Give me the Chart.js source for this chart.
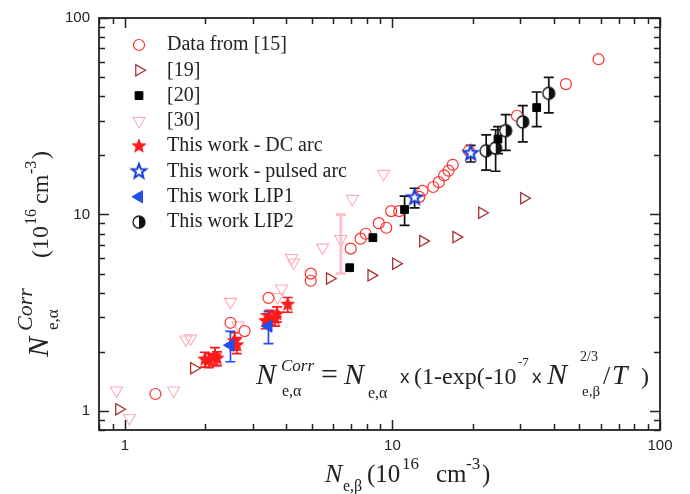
<!DOCTYPE html>
<html>
<head>
<meta charset="utf-8">
<script src="https://cdn.jsdelivr.net/npm/chart.js@4.4.0/dist/chart.umd.min.js"></script>
<style>
  html, body { margin: 0; padding: 0; background: #fff; }
  canvas { display: block; }
</style>
</head>
<body>
<canvas id="chart" width="690" height="494"></canvas>
<script>
// ---- data (units of 1e16 cm^-3) ----
const ref15X = [1.30, 2.48, 2.80, 3.44, 4.95, 4.95, 6.98, 7.60, 7.94, 8.89, 9.48, 9.89, 10.6, 12.6, 12.95, 14.2, 14.9, 15.6, 16.2, 16.8, 19.3, 29.2, 44.5, 58.9];
const ref15Y = [1.22, 2.81, 2.55, 3.76, 5.0, 4.6, 6.70, 7.53, 7.98, 9.03, 8.56, 10.4, 10.4, 12.3, 13.2, 13.8, 14.6, 15.8, 16.7, 17.9, 21.1, 31.8, 46.1, 61.7];

const ref19X = [0.95, 1.81, 5.83, 8.33, 10.3, 13.0, 17.3, 21.6, 31.0];
const ref19Y = [1.02, 1.65, 4.72, 4.90, 5.62, 7.32, 7.67, 10.2, 12.1];

const ref20X = [6.92, 8.45, 11.1, 24.8, 34.6];
const ref20Y = [5.36, 7.62, 10.6, 24.2, 35.0];
const ref20Err = [0, 0, 1.8, 3.8, 7.0];

const ref30X = [0.93, 1.04, 1.52, 1.69, 1.76, 2.48, 2.65, 3.72, 3.85, 4.2, 4.27, 5.48, 6.41, 7.08, 9.26];
const ref30Y = [1.27, 0.92, 1.27, 2.31, 2.34, 3.59, 2.73, 3.8, 4.2, 6.0, 5.7, 6.78, 7.5, 12.0, 16.1];
const ref30Err = [0, 0, 0, 0, 0, 0, 0, 0, 0, 0, 0, 0, 2.5, 0, 0];

const dcArcX = [1.99, 2.06, 2.17, 2.21, 2.57, 2.62, 3.36, 3.47, 3.64, 3.70, 4.06];
const dcArcY = [1.83, 1.81, 1.90, 1.85, 2.27, 2.16, 2.87, 3.0, 2.95, 3.11, 3.48];
const dcArcErr = [0.16, 0.15, 0.2, 0.15, 0.23, 0.2, 0.25, 0.25, 0.25, 0.28, 0.3];

const pulsedX = [12.1, 19.6];
const pulsedY = [12.2, 20.5];
const pulsedErr = [1.4, 2.0];

const lip1X = [2.48, 3.44];
const lip1Y = [2.16, 2.70];
const lip1Err = [0.38, 0.5];

const lip2X = [22.4, 24.3, 26.5, 30.7, 38.4];
const lip2Y = [21.1, 21.8, 26.7, 29.6, 41.4];
const lip2Err = [4.3, 5.2, 5.5, 6.2, 8.5];

const xTickLabels = ['1', '10', '100'];
const yTickLabels = ['1', '10', '100'];

const legendLabels = ['Data from [15]', '[19]', '[20]', '[30]', 'This work - DC arc',
  'This work - pulsed arc', 'This work LIP1', 'This work LIP2'];

function pts(xs, ys) { return xs.map((x, i) => ({ x: x, y: ys[i] })); }

// ---- custom marker images ----
function starCanvas(R, fill, stroke, lw) {
  const s = 2 * Math.ceil(R + lw + 1);
  const c = document.createElement('canvas');
  c.width = s; c.height = s;
  const g = c.getContext('2d');
  g.beginPath();
  for (let i = 0; i < 10; i++) {
    const r = i % 2 ? R * 0.42 : R;
    const a = -Math.PI / 2 + i * Math.PI / 5;
    g.lineTo(s / 2 + r * Math.cos(a), s / 2 + r * Math.sin(a));
  }
  g.closePath();
  g.fillStyle = fill;
  g.fill();
  if (stroke) { g.strokeStyle = stroke; g.lineWidth = lw; g.stroke(); }
  return c;
}

function halfCircle(r) {
  const s = 2 * Math.ceil(r + 2);
  const c = document.createElement('canvas');
  c.width = s; c.height = s;
  const g = c.getContext('2d');
  g.beginPath(); g.arc(s / 2, s / 2, r, 0, Math.PI * 2);
  g.fillStyle = '#fff'; g.fill();
  g.beginPath(); g.arc(s / 2, s / 2, r, -Math.PI / 2, Math.PI / 2); g.closePath();
  g.fillStyle = '#111'; g.fill();
  g.beginPath(); g.arc(s / 2, s / 2, r, 0, Math.PI * 2);
  g.strokeStyle = '#111'; g.lineWidth = 1.3; g.stroke();
  return c;
}

const redStar = starCanvas(7, '#ff1a1a', '#ff1a1a', 1);
const blueStar = starCanvas(7.5, '#ffffff', '#1a3ad6', 2);
const halfDot = halfCircle(6);

// ---- plugins ----
const errorBars = {
  id: 'errorBars',
  beforeDatasetsDraw(chart) {
    const ctx = chart.ctx, xs = chart.scales.x, ys = chart.scales.y;
    chart.data.datasets.forEach(ds => {
      if (!ds.yErr) return;
      ctx.save();
      ctx.strokeStyle = ds.errColor;
      ctx.lineWidth = ds.errWidth || 1.7;
      ds.data.forEach((p, i) => {
        const e = ds.yErr[i];
        if (!e) return;
        const px = xs.getPixelForValue(p.x);
        const top = ys.getPixelForValue(p.y + e);
        const bot = ys.getPixelForValue(p.y - e);
        ctx.beginPath();
        ctx.moveTo(px, top); ctx.lineTo(px, bot);
        ctx.moveTo(px - 5, top); ctx.lineTo(px + 5, top);
        ctx.moveTo(px - 5, bot); ctx.lineTo(px + 5, bot);
        ctx.stroke();
      });
      ctx.restore();
    });
  }
};

function txt(ctx, s, x, y, font, align) {
  ctx.font = font;
  ctx.textAlign = align || 'left';
  ctx.fillText(s, x, y);
}

const frameAndText = {
  id: 'frameAndText',
  afterDatasetsDraw(chart) {
    const ctx = chart.ctx, a = chart.chartArea;
    const xs = chart.scales.x, ys = chart.scales.y;
    ctx.save();
    ctx.strokeStyle = '#222';
    ctx.lineWidth = 1.8;
    ctx.strokeRect(a.left, a.top, a.right - a.left, a.bottom - a.top);

    // inward ticks on all four sides
    ctx.lineWidth = 1.5;
    const vals = [];
    [0.1, 1, 10].forEach(d => { for (let k = 1; k <= 9; k++) vals.push([k * d, k === 1]); });
    vals.push([100, true]);
    vals.forEach(([v, major]) => {
      const len = major ? 10 : 6;
      if (v >= xs.min && v <= xs.max) {
        const px = Math.round(xs.getPixelForValue(v)) + 0.5;
        ctx.beginPath();
        ctx.moveTo(px, a.bottom); ctx.lineTo(px, a.bottom - len);
        ctx.moveTo(px, a.top); ctx.lineTo(px, a.top + len);
        ctx.stroke();
      }
      if (v >= ys.min && v <= ys.max) {
        const py = Math.round(ys.getPixelForValue(v)) + 0.5;
        ctx.beginPath();
        ctx.moveTo(a.left, py); ctx.lineTo(a.left + len, py);
        ctx.moveTo(a.right, py); ctx.lineTo(a.right - len, py);
        ctx.stroke();
      }
    });

    // tick labels
    ctx.fillStyle = '#222';
    ctx.textBaseline = 'middle';
    xTickLabels.forEach(t => txt(ctx, t, xs.getPixelForValue(Number(t)), 446, '15px "Liberation Sans"', 'center'));
    yTickLabels.forEach(t => txt(ctx, t, 90, ys.getPixelForValue(Number(t)), '15px "Liberation Sans"', 'right'));

    // legend
    const helpers = Chart.helpers;
    chart.data.datasets.forEach((ds, i) => {
      const y = 45 + i * 25.3;
      ctx.save();
      ctx.strokeStyle = ds.borderColor;
      ctx.fillStyle = ds.backgroundColor;
      ctx.lineWidth = ds.borderWidth;
      helpers.drawPoint(ctx, { pointStyle: ds.pointStyle, rotation: ds.pointRotation || 0,
        radius: ds.pointRadius, borderWidth: ds.borderWidth }, 139, y);
      ctx.restore();
      ctx.fillStyle = '#222';
      txt(ctx, legendLabels[i], 167, y, '20px "Liberation Serif"');
    });

    // equation inside the plot
    ctx.textBaseline = 'alphabetic';
    const it = s => 'italic ' + s + 'px "Liberation Serif"';
    const rm = s => s + 'px "Liberation Serif"';
    const ss = s => s + 'px "Liberation Sans"';
    const by = 384;
    txt(ctx, 'N', 256, by, it(30));
    txt(ctx, 'Corr', 281, by - 13, it(17));
    txt(ctx, 'e,\u03b1', 282, by + 12, rm(16));
    txt(ctx, '=', 321, by, rm(30));
    txt(ctx, 'N', 344, by, it(30));
    txt(ctx, 'e,\u03b1', 368, by + 14, rm(16));
    txt(ctx, 'x', 400, by - 1, ss(19));
    txt(ctx, '(1-exp(-10', 414, by, rm(24));
    txt(ctx, '-7', 518, by - 18, rm(13));
    txt(ctx, 'x', 532, by - 1, ss(19));
    txt(ctx, 'N', 547, by, it(30));
    txt(ctx, '2/3', 580, by - 23, rm(14));
    txt(ctx, 'e,\u03b2', 582, by + 12, rm(15));
    txt(ctx, '/', 603, by, rm(26));
    txt(ctx, 'T', 612, by, it(28));
    txt(ctx, ')', 641, by, rm(24));

    // x axis title
    const xb = 482;
    txt(ctx, 'N', 325, xb, it(26));
    txt(ctx, 'e,\u03b2', 343, xb + 9, rm(16));
    txt(ctx, '(10', 367, xb, rm(25));
    txt(ctx, '16', 402, xb - 13, rm(17));
    txt(ctx, 'cm', 436, xb, rm(25));
    txt(ctx, '-3', 466, xb - 13, rm(17));
    txt(ctx, ')', 482, xb, rm(25));

    // y axis title (rotated)
    ctx.save();
    ctx.translate(48, 357);
    ctx.rotate(-Math.PI / 2);
    txt(ctx, 'N', 0, 0, it(30));
    txt(ctx, 'Corr', 26, -16, it(22));
    txt(ctx, 'e,\u03b1', 27, 10, rm(17));
    txt(ctx, '(10', 99, 0, rm(24));
    txt(ctx, '16', 132, -12, rm(16));
    txt(ctx, 'cm', 153, 0, rm(24));
    txt(ctx, '-3', 183, -12, rm(16));
    txt(ctx, ')', 198, 0, rm(24));
    ctx.restore();

    ctx.restore();
  }
};

// ---- chart ----
new Chart(document.getElementById('chart'), {
  type: 'scatter',
  data: {
    datasets: [
      { data: pts(ref15X, ref15Y), pointStyle: 'circle', pointRadius: 5.5, borderWidth: 1.2,
        borderColor: '#ff3030', backgroundColor: 'rgba(0,0,0,0)', order: 3 },
      { data: pts(ref19X, ref19Y), pointStyle: 'triangle', pointRotation: 90, pointRadius: 6.5, borderWidth: 1.3,
        borderColor: '#a83232', backgroundColor: 'rgba(0,0,0,0)', order: 3 },
      { data: pts(ref20X, ref20Y), pointStyle: 'rect', pointRadius: 5.5, borderWidth: 1,
        borderColor: '#000', backgroundColor: '#000', order: 1, yErr: ref20Err, errColor: '#111' },
      { data: pts(ref30X, ref30Y), pointStyle: 'triangle', pointRotation: 180, pointRadius: 7, borderWidth: 1.1,
        borderColor: '#ffadb9', backgroundColor: 'rgba(0,0,0,0)', order: 4,
        yErr: ref30Err, errColor: '#ffc2cb', errWidth: 2.8 },
      { data: pts(dcArcX, dcArcY), pointStyle: redStar, pointRadius: 6, borderWidth: 1,
        borderColor: '#ff1a1a', backgroundColor: '#ff1a1a', order: 1, yErr: dcArcErr, errColor: '#ff1a1a' },
      { data: pts(pulsedX, pulsedY), pointStyle: blueStar, pointRadius: 6, borderWidth: 2,
        borderColor: '#1a3ad6', backgroundColor: '#fff', order: 0, yErr: pulsedErr, errColor: '#111' },
      { data: pts(lip1X, lip1Y), pointStyle: 'triangle', pointRotation: 270, pointRadius: 7, borderWidth: 1,
        borderColor: '#1f4ff0', backgroundColor: '#1f4ff0', order: 0, yErr: lip1Err, errColor: '#1f4ff0' },
      { data: pts(lip2X, lip2Y), pointStyle: halfDot, pointRadius: 6, borderWidth: 1,
        borderColor: '#111', backgroundColor: '#111', order: 1, yErr: lip2Err, errColor: '#111' }
    ]
  },
  options: {
    responsive: false,
    animation: false,
    events: [],
    layout: { padding: { left: 99, right: 30, top: 18, bottom: 64 } },
    plugins: { legend: { display: false }, tooltip: { enabled: false } },
    scales: {
      x: { type: 'logarithmic', min: 0.8, max: 100, display: false },
      y: { type: 'logarithmic', min: 0.8, max: 100, display: false }
    }
  },
  plugins: [errorBars, frameAndText]
});
</script>
</body>
</html>
